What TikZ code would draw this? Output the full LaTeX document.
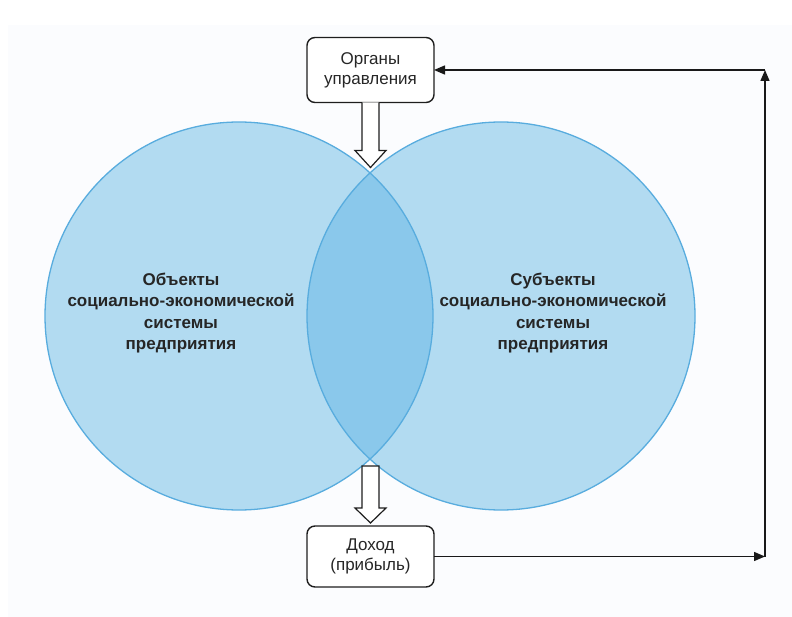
\documentclass[tikz,border=0pt]{standalone}
\usepackage{fontspec}
\setmainfont{Liberation Sans}
\usetikzlibrary{arrows.meta}
\definecolor{circfill}{RGB}{178,219,241}
\definecolor{lensfill}{RGB}{138,200,235}
\definecolor{circline}{RGB}{88,172,222}
\definecolor{boxline}{RGB}{30,30,30}
\definecolor{pagetint}{RGB}{251,252,254}
\tikzset{
  every node/.style={inner sep=0pt, outer sep=0pt},
  ring/.style={circle, minimum size=388pt, draw=circline, line width=1.3pt},
  ctext/.style={align=center, font=\fontsize{17}{21.5}\selectfont\bfseries, text=black!85},
  ubox/.style={draw=boxline, line width=1.4pt, rounded corners=8pt, fill=white,
    minimum width=127pt, align=center, font=\fontsize{17}{20}\selectfont, text=black!85},
  hollow/.style={draw=boxline, line width=1.2pt, fill=white, line join=miter},
  fb/.style={draw=black!90, line width=1.4pt, -{Triangle[length=11pt,width=9pt]}}
}
\begin{document}
\begin{tikzpicture}[x=1pt,y=-1pt]
  \useasboundingbox (0,0) rectangle (792,617);
  \fill[pagetint] (8,25) rectangle (792,617);

  % two overlapping circles
  \fill[circfill] (239,316) circle (194);
  \fill[circfill] (501,316) circle (194);
  \begin{scope}
    \clip (239,316) circle (194);
    \fill[lensfill] (501,316) circle (194);
  \end{scope}
  \node[ring] (L) at (239,316) {};
  \node[ring] (R) at (501,316) {};

  \node[ctext] (Ltxt) at (181,313) {Объекты\\социально-экономической\\системы\\предприятия};
  \node[ctext] (Rtxt) at (553,313) {Субъекты\\социально-экономической\\системы\\предприятия};

  % boxes
  \node[ubox, minimum height=65pt] (top) at (370.5,70) {Органы\\управления};
  \node[ubox, minimum height=61pt] (bot) at (370.5,556.5) {Доход\\(прибыль)};

  % hollow arrow from the upper box down to the circles
  \draw[hollow] (top.south) ++(-8.5,0) -- ++(0,48) -- ++(-7,0) -- ++(15.5,17)
     -- ++(15.5,-17) -- ++(-7,0) -- ++(0,-48);
  % hollow arrow from the circles down to the lower box
  \draw[hollow] (bot.north) ++(-8.5,-60) -- ++(0,42) -- ++(-7,0) -- ++(15.5,15)
     -- ++(15.5,-15) -- ++(-7,0) -- ++(0,-42) -- cycle;

  % feedback loop
  \coordinate (c1) at (765,556.5);
  \coordinate (c2) at (765,70);
  \draw[fb] (bot.east) -- (c1);
  \draw[fb] (c1) -- (c2);
  \draw[fb] (c2) -- (top.east);
\end{tikzpicture}
\end{document}
